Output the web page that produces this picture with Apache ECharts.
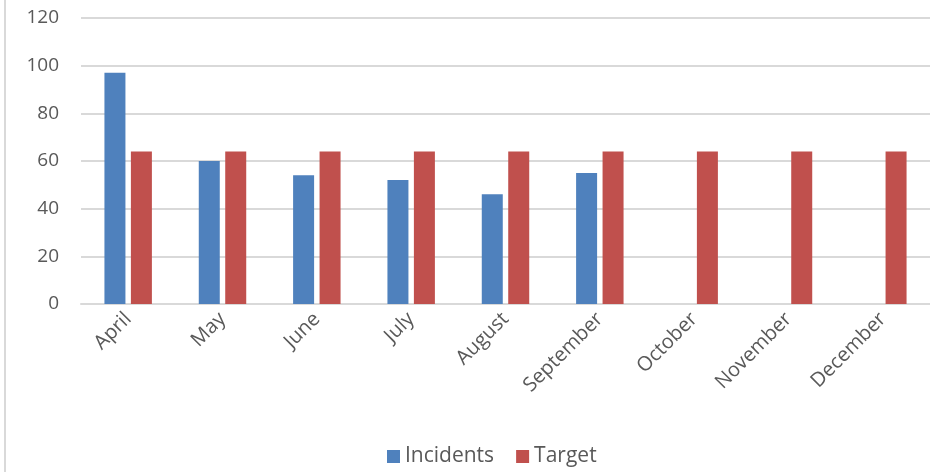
<!DOCTYPE html>
<html>
<head>
<meta charset="utf-8">
<script src="https://cdn.jsdelivr.net/npm/echarts@6/dist/echarts.min.js"></script>
<style>
  html, body { margin: 0; padding: 0; background: #fff; overflow: hidden; }
  #chart { position: absolute; left: 0; top: 0; width: 930px; height: 472px; }
  #edge { position: absolute; left: 4px; top: 0; width: 2px; height: 472px; background: #d9d9d9; }
</style>
</head>
<body>
<div id="chart"></div>
<div id="edge"></div>
<script>
  // months shown on the x axis
  const months = ['April', 'May', 'June', 'July', 'August', 'September', 'October', 'November', 'December'];
  // no bar for the later months
  const incidents = [97, 60, 54, 52, 46, 55, null, null, null];
  const target = [64, 64, 64, 64, 64, 64, 64, 64, 64];

  const labelFont = 'Open Sans, Liberation Sans, sans-serif';
  let chart = echarts.init(document.getElementById('chart'));
  chart.setOption({
    animation: false,
    textStyle: { fontFamily: labelFont },
    grid: {
      left: 81,
      width: 855,
      top: 18,
      bottom: 168
    },
    legend: {
      bottom: 0,
      left: 382,
      itemWidth: 13,
      itemHeight: 13,
      itemGap: 22,
      icon: 'rect',
      textStyle: { fontSize: 21, color: '#595959', fontFamily: labelFont },
      data: ['Incidents', 'Target']
    },
    xAxis: {
      type: 'category',
      data: months,
      axisLine: { lineStyle: { color: '#d9d9d9', width: 2 } },
      axisTick: { show: false },
      axisLabel: {
        rotate: 45,
        fontSize: 20,
        color: '#595959',
        margin: 12,
        interval: 0
      }
    },
    yAxis: {
      type: 'value',
      min: 0,
      max: 120,
      interval: 20,
      axisLine: { show: false },
      axisTick: { show: false },
      splitLine: { lineStyle: { color: '#d9d9d9', width: 2 } },
      axisLabel: {
        fontSize: 19,
        color: '#595959',
        margin: 22
      }
    },
    series: [
      {
        name: 'Incidents',
        type: 'bar',
        barWidth: 21,
        barGap: '26%',
        itemStyle: { color: '#4f81bd' },
        data: incidents
      },
      {
        name: 'Target',
        type: 'bar',
        barWidth: 21,
        itemStyle: { color: '#c0504d' },
        data: target
      }
    ]
  });
</script>
</body>
</html>
